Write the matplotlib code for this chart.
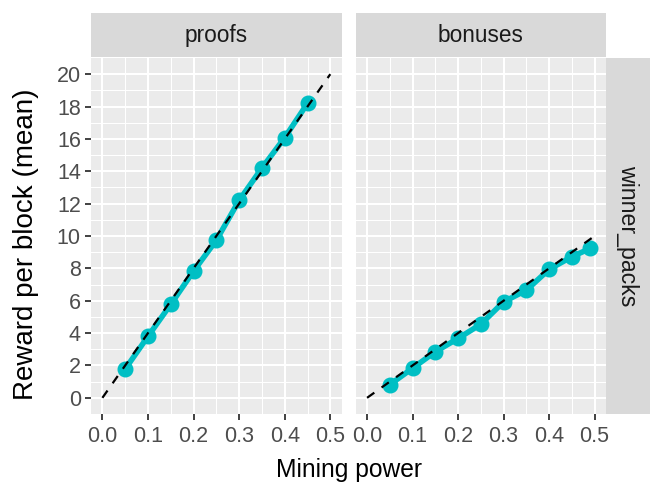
import matplotlib
matplotlib.use("Agg")
import matplotlib.pyplot as plt
import numpy as np

plt.rcParams['font.family'] = ['Liberation Sans', 'DejaVu Sans']

panels = ["proofs", "bonuses"]
row_label = "winner_packs"

proofs_x = [0.05, 0.10, 0.15, 0.20, 0.25, 0.30, 0.35, 0.40, 0.45]
proofs_y = [1.78, 3.80, 5.78, 7.83, 9.74, 12.2, 14.2, 16.08, 18.2]

bonuses_x = [0.05, 0.10, 0.15, 0.20, 0.25, 0.30, 0.35, 0.40, 0.45, 0.49]
bonuses_y = [0.82, 1.83, 2.85, 3.67, 4.55, 5.93, 6.65, 7.94, 8.72, 9.23]

# expected reward lines (y = slope * power)
ref_x = [0.0, 0.5]
ref_slopes = [40, 20]

xticks = [0.0, 0.1, 0.2, 0.3, 0.4, 0.5]
yticks = list(range(0, 21, 2))

teal = "#00BFC4"
fig = plt.figure(figsize=(6.64, 4.98), dpi=100)

W, H = 664, 498
def box(x0, y0, x1, y1):
    return [x0 / W, 1 - y1 / H, (x1 - x0) / W, (y1 - y0) / H]

panel_boxes = [box(91, 58, 341.7, 414), box(355.7, 58, 606, 414)]
data = [(proofs_x, proofs_y), (bonuses_x, bonuses_y)]

for i, (name, pb, (xs, ys), slope) in enumerate(zip(panels, panel_boxes, data, ref_slopes)):
    ax = fig.add_axes(pb)
    ax.set_facecolor("#EBEBEB")
    for s in ax.spines.values():
        s.set_visible(False)
    ax.set_xlim(-0.025, 0.525)
    ax.set_ylim(-1, 21)
    ax.set_xticks(xticks)
    ax.set_xticklabels([f"{t:.1f}" for t in xticks])
    ax.set_xticks(np.arange(0.05, 0.5, 0.1), minor=True)
    ax.set_yticks(yticks)
    ax.set_yticks(np.arange(1, 21, 2), minor=True)
    ax.grid(True, which="major", color="white", linewidth=1.5)
    ax.grid(True, which="minor", color="white", linewidth=0.75)
    ax.set_axisbelow(True)
    ax.tick_params(which="minor", length=0)
    ax.tick_params(which="major", color="#333333", width=1.3, length=4.3,
                   labelsize=15.5, labelcolor="#4D4D4D", pad=3)
    ax.tick_params(axis="x", pad=4.5)
    if i == 0:
        ax.set_yticklabels([str(t) for t in yticks])
    else:
        ax.tick_params(axis="y", which="both", length=0, labelleft=False)

    ax.plot(xs, ys, color=teal, linewidth=4, marker="o", markersize=10.5,
            solid_capstyle="butt", zorder=3)
    ax.plot(ref_x, [slope * v for v in ref_x], color="black", linewidth=1.6,
            dashes=(4, 4), zorder=4)

    sb = fig.add_axes(box(pb[0] * W, 13.3, (pb[0] + pb[2]) * W, 57.3))
    sb.set_facecolor("#D9D9D9")
    sb.set_xticks([]); sb.set_yticks([])
    for s in sb.spines.values():
        s.set_visible(False)
    sb.text(0.5, 0.5, name, ha="center", va="center", fontsize=16.3,
            color="#1A1A1A", transform=sb.transAxes)

rs = fig.add_axes(box(606, 58, 650, 414))
rs.set_facecolor("#D9D9D9")
rs.set_xticks([]); rs.set_yticks([])
for s in rs.spines.values():
    s.set_visible(False)
rs.text(0.5, 0.5, row_label, ha="center", va="center", rotation=-90,
        fontsize=16.7, color="#1A1A1A", transform=rs.transAxes)

fig.text((91 + 606) / 2 / W, 1 - 477 / H, "Mining power", ha="center",
         va="baseline", fontsize=17.7, color="black")
fig.text(26 / W, 1 - 244 / H, "Reward per block (mean)", ha="center",
         va="center", rotation=90, fontsize=20, color="black")

fig.savefig("out.png", dpi=100)
